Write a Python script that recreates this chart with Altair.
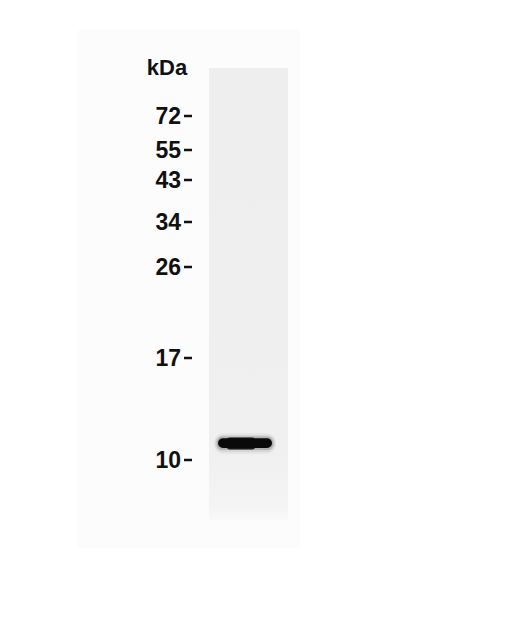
import altair as alt
import pandas as pd

# Molecular-weight ladder (kDa) and their migration positions (px from top)
marker_labels = ["72", "55", "43", "34", "26", "17", "10"]
marker_pos = [116, 150, 180, 222, 267, 358, 460]

# Sample lane and detected band
lane_names = ["Sample"]
band_kda = [12]
band_pos = [443]

W, H = 490, 628
xs = alt.Scale(domain=[8, 8 + W])
ys = alt.Scale(domain=[8, 8 + H], reverse=True)

markers = pd.DataFrame({"label": marker_labels, "pos": marker_pos})
lanes = pd.DataFrame({"lane": lane_names})
bands = pd.DataFrame({"kda": band_kda, "pos": band_pos})
title_df = pd.DataFrame({"t": ["kDa"]})

FONT = "Liberation Sans, Arial, sans-serif"

backdrop = alt.Chart(lanes).mark_rect(color="#fcfcfc").encode(
    x=alt.datum(78, scale=xs), x2=alt.datum(300),
    y=alt.datum(30, scale=ys), y2=alt.datum(548),
)

lane_fill = {
    "gradient": "linear", "x1": 0, "y1": 0, "x2": 0, "y2": 1,
    "stops": [
        {"offset": 0, "color": "#eeeeee"},
        {"offset": 0.85, "color": "#f0f0f0"},
        {"offset": 0.97, "color": "#f4f4f4"},
        {"offset": 1, "color": "#f9f9f9"},
    ],
}
lane = alt.Chart(lanes).mark_rect(color=lane_fill).encode(
    x=alt.datum(209, scale=xs), x2=alt.datum(288),
    y=alt.datum(68, scale=ys), y2=alt.datum(520),
)


def band_layer(dx, dy_top, dy_bot, color, opacity, radius):
    return alt.Chart(bands).mark_rect(color=color, opacity=opacity, cornerRadius=radius).transform_calculate(
        top=f"datum.pos - {dy_top}", bot=f"datum.pos + {dy_bot}"
    ).encode(
        x=alt.datum(218 - dx, scale=xs), x2=alt.datum(272 + dx),
        y=alt.Y("top:Q", scale=ys, axis=None), y2="bot:Q",
    )


blur = [
    band_layer(4, 10, 11, "#777777", 0.08, 10),
    band_layer(3, 8, 9, "#666666", 0.12, 8),
    band_layer(1.5, 6.5, 7, "#444444", 0.25, 6),
    band_layer(0, 4.8, 5, "#0a0a0a", 1.0, 5),
]

band_mid = alt.Chart(bands).mark_rect(color="#0a0a0a", cornerRadius=4, opacity=0.9).transform_calculate(
    top="datum.pos - 5.5", bot="datum.pos + 6.5"
).encode(
    x=alt.datum(226, scale=xs), x2=alt.datum(256),
    y=alt.Y("top:Q", scale=ys, axis=None), y2="bot:Q",
)

labels = alt.Chart(markers).mark_text(
    align="right", baseline="middle", font=FONT, fontSize=23, fontWeight="bold", color="#111111", dy=1
).encode(
    x=alt.datum(181, scale=xs),
    y=alt.Y("pos:Q", scale=ys, axis=None),
    text="label:N",
)

dashes = alt.Chart(markers).mark_rule(color="#111111", strokeWidth=2.5).encode(
    x=alt.datum(184, scale=xs), x2=alt.datum(192),
    y=alt.Y("pos:Q", scale=ys, axis=None),
)

unit = alt.Chart(title_df).mark_text(
    align="center", baseline="middle", font=FONT, fontSize=22, fontWeight="bold", color="#111111"
).encode(
    x=alt.datum(167, scale=xs), y=alt.datum(68, scale=ys), text="t:N",
)

chart = alt.layer(backdrop, lane, *blur, band_mid, labels, dashes, unit).properties(
    width=W, height=H, padding=0, autosize=alt.AutoSizeParams(type="none"),
    background="white",
).configure_view(stroke=None).configure_axis(disable=True)

chart.save("out.html", embed_options={"renderer": "svg", "actions": False})
